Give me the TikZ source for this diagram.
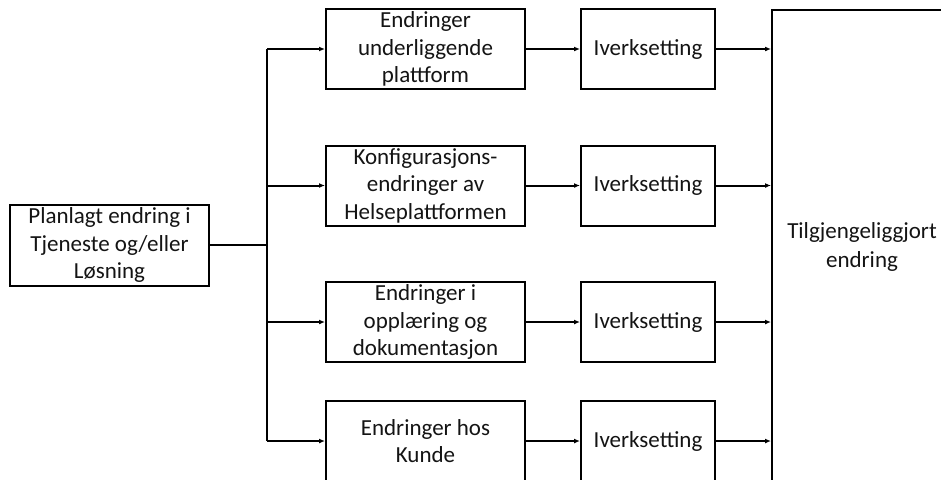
\documentclass[tikz,border=0pt]{standalone}
\usepackage{fontspec}
\setmainfont{Carlito}
\usetikzlibrary{arrows.meta,calc}
\begin{document}
\begin{tikzpicture}[x=1pt,y=-1pt,
  box/.style={draw=black,line width=2pt,inner sep=0pt,align=center,
    font=\fontsize{23}{27.5}\selectfont,text=black!92},
  stepbox/.style={box,minimum width=199pt,minimum height=80pt},
  ivbox/.style={box,minimum width=134pt,minimum height=80pt},
  conn/.style={line width=2pt,-{Latex[length=6pt,width=5pt]}},
  plain/.style={line width=2pt},
]
\useasboundingbox (0,0) rectangle (941,479);
\clip (0,0) rectangle (941,479);
\fill[white] (0,0) rectangle (941,479);

% source
\node[box,minimum width=199pt,minimum height=81pt] (src) at (109.5,245)
  {Planlagt endring i\\Tjeneste og/eller\\Løsning};

% first column
\node[stepbox] (a1) at (425.5,49) {Endringer\\underliggende\\plattform};
\node[stepbox] (a2) at (425.5,185.5) {Konfigurasjons-\\endringer av\\Helseplattformen};
\node[stepbox] (a3) at (425.5,322) {Endringer i\\opplæring og\\dokumentasjon};
\node[stepbox] (a4) at (425.5,441) {Endringer hos\\Kunde};

% Iverksetting column
\node[ivbox] (i1) at (648,49) {Iverksetting};
\node[ivbox] (i2) at (648,185.5) {Iverksetting};
\node[ivbox] (i3) at (648,322) {Iverksetting};
\node[ivbox] (i4) at (648,441) {Iverksetting};

% big target box (extends beyond the picture)
\node[draw=black,line width=2pt,minimum width=400pt,minimum height=600pt,
  anchor=north west,inner sep=0pt] (big) at (771,9) {};
\node[font=\fontsize{23}{29}\selectfont,text=black!92,align=center,inner sep=0pt]
  (bigtext) at (862,247) {Tilgjengeliggjort\\endring};

% trunk
\coordinate (tr) at (src.east -| 267,0);
\coordinate (t1) at (tr |- a1.west);
\coordinate (t4) at (tr |- a4.west);
\draw[line width=2.8pt] (src.east) -- (tr);
\draw[plain] (t1) -- (t4);
\foreach \n in {1,2,3,4}{
  \draw[conn] (tr |- a\n.west) -- (a\n.west);
  \draw[conn] (a\n.east) -- (i\n.west);
  \draw[conn] (i\n.east) -- (i\n.east -| big.west);
}
\end{tikzpicture}
\end{document}
